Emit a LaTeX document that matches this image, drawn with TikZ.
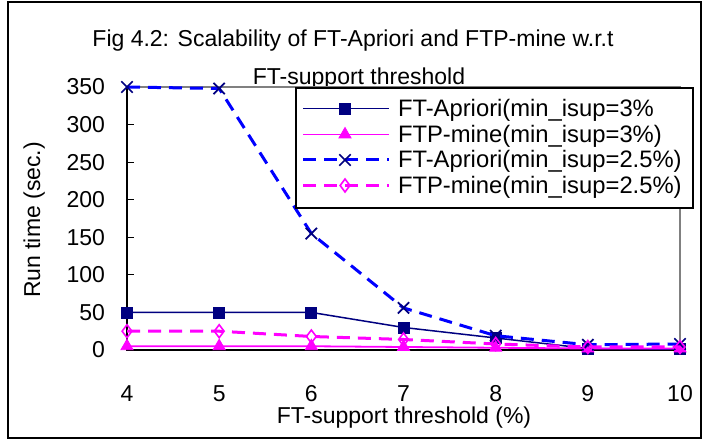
\documentclass[tikz,border=0pt]{standalone}
\usepackage{fontspec}
\setmainfont{Liberation Sans}
\usetikzlibrary{plotmarks}
\definecolor{navy}{RGB}{0,0,128}
\definecolor{pureblue}{RGB}{0,0,255}
\definecolor{pink}{RGB}{255,0,255}
\definecolor{framegrey}{RGB}{128,128,128}
\begin{document}
\begin{tikzpicture}[x=1pt,y=-1pt,
  every node/.style={inner sep=0pt, outer sep=0pt},
  txt/.style={font=\fontsize{23}{28}\selectfont},
  legtxt/.style={font=\fontsize{23.8}{28}\selectfont, anchor=base west},
  serA/.style={draw=navy, line width=1.5pt, mark=square*, mark size=5.5pt,
    mark options={solid, draw=navy, fill=navy, line width=0.8pt}},
  serB/.style={draw=pink, line width=1.8pt, mark=triangle*, mark size=7pt,
    mark options={solid, draw=pink, fill=pink, line width=0.8pt}},
  serC/.style={draw=pureblue, line width=3pt, dash pattern=on 13pt off 8pt,
    mark=x, mark size=8pt, mark options={solid, draw=navy, line width=1.7pt}},
  serD/.style={draw=pink, line width=3pt, dash pattern=on 13pt off 8pt,
    mark=diamond, mark size=6.5pt, mark options={solid, draw=pink, fill=white, line width=1.6pt}},
]
\useasboundingbox (0,0) rectangle (705,441);
\fill[white] (0,0) rectangle (705,441);

% outer chart frame
\draw[line width=2pt] (8,2.5) rectangle (701,438);

% title
\node[txt, anchor=base] (title1) at (353,47) {Fig 4.2: Scalability of FT-Apriori and FTP-mine w.r.t};
\node[txt, anchor=base] (title2) at (359,85) {FT-support threshold};

% plot area corners
\coordinate (pTL) at (127,87);
\coordinate (pTR) at (680,87);
\coordinate (pBL) at (127,350);
\coordinate (pBR) at (680,350);

% plot area border (grey) and axes (black)
\draw[framegrey, line width=1.5pt] (pTL) -- (pTR) -- (pBR);
\draw[line width=2pt] (pTL) -- (pBL) -- (pBR);

% y ticks and labels
\foreach \v in {0,50,...,350} {
  \pgfmathsetmacro{\yy}{350-\v*0.7514}
  \draw[line width=1.2pt] (127,\yy) -- (134,\yy);
  \node[txt, anchor=east] (ylab\v) at (105,\yy) {\v};
}

% x tick labels
\foreach \i in {4,...,10} {
  \pgfmathsetmacro{\xx}{127+(\i-4)*92.17}
  \node[txt, anchor=center] (xlab\i) at (\xx,393.5) {\i};
}

% axis titles
\node[txt, anchor=base] (xtitle) at (404,423) {FT-support threshold (\%)};
\node[txt, anchor=base, rotate=90] (ytitle) at (40,220) {Run time (sec.)};

% data series
\begin{scope}[shift={(127,350)}, x=92.17pt, y=0.7514pt]
  \draw[serA] plot coordinates {(0,50) (1,50) (2,50) (3,30) (4,16) (5,2) (6,1)};
  \draw[serB] plot coordinates {(0,5) (1,5) (2,5) (3,4) (4,3) (5,2) (6,2)};
  \draw[serC] plot coordinates {(0,350) (1,348) (2,155) (3,56) (4,19) (5,7) (6,8)};
  \draw[serD] plot coordinates {(0,25) (1,25) (2,18) (3,14) (4,8) (5,4) (6,4)};
\end{scope}

% legend
\node[draw, line width=1.5pt, fill=white, anchor=north west,
      minimum width=397pt, minimum height=120pt] (legend) at (296,88) {};
\draw[serA, mark indices={2}] plot coordinates {(303,108.5) (345,108.5) (389,108.5)};
\draw[serB, mark indices={2}] plot coordinates {(303,134.5) (345,134.5) (389,134.5)};
\draw[serC, mark indices={2}] plot coordinates {(303,160) (345,160) (389,160)};
\draw[serD, mark indices={2}] plot coordinates {(303,185.5) (345,185.5) (389,185.5)};
\node[legtxt] (leg1) at (398,116.7) {FT-Apriori(min\_isup=3\%};
\node[legtxt] (leg2) at (398,142.5) {FTP-mine(min\_isup=3\%)};
\node[legtxt] (leg3) at (398,168) {FT-Apriori(min\_isup=2.5\%)};
\node[legtxt] (leg4) at (398,193.5) {FTP-mine(min\_isup=2.5\%)};
\end{tikzpicture}
\end{document}
